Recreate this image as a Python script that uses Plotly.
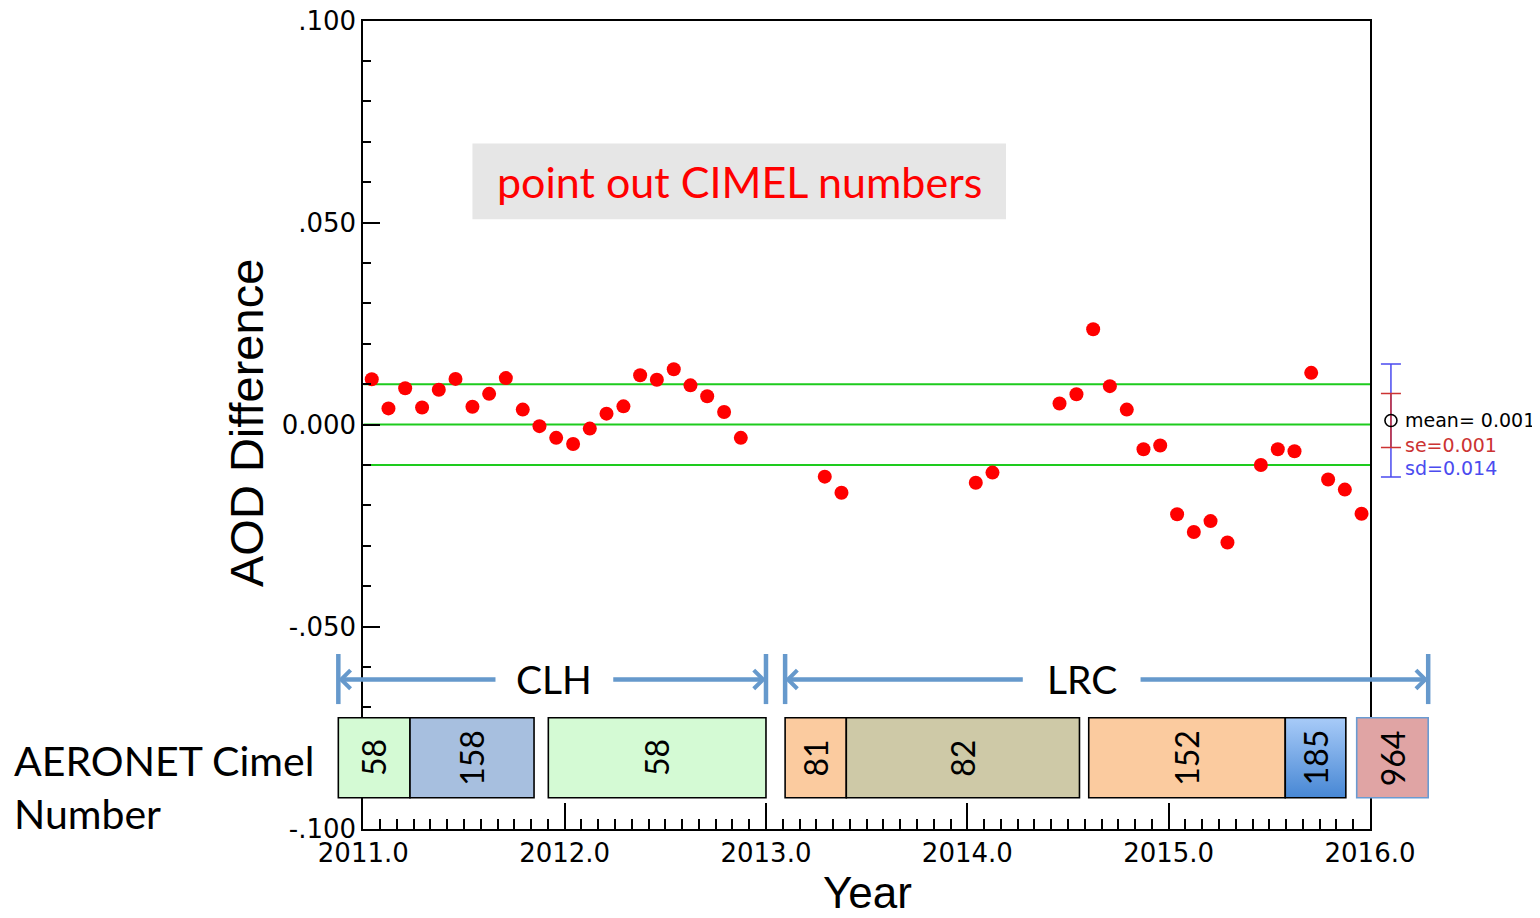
import plotly.graph_objects as go

# page body has an 8px margin: the figure is placed at (8, 8) in the 1540x918 window
OFF = 8
W, H = 1540 - OFF, 918 - OFF

# ---------------- data ----------------
YEARS = [2011.042, 2011.125, 2011.208, 2011.292, 2011.375, 2011.458, 2011.542, 2011.625,
         2011.708, 2011.792, 2011.875, 2011.958, 2012.042, 2012.125, 2012.208, 2012.292,
         2012.375, 2012.458, 2012.542, 2012.625, 2012.708, 2012.792, 2012.875,
         2013.292, 2013.375, 2014.042, 2014.125, 2014.458, 2014.542, 2014.625, 2014.708,
         2014.792, 2014.875, 2014.958, 2015.042, 2015.125, 2015.208, 2015.292, 2015.458,
         2015.542, 2015.625, 2015.708, 2015.792, 2015.875, 2015.958]
AOD_DIFF = [0.0112, 0.0040, 0.0090, 0.0042, 0.0086, 0.0113, 0.0044, 0.0076,
            0.0115, 0.0037, -0.0004, -0.0033, -0.0048, -0.0010, 0.0027, 0.0045,
            0.0122, 0.0111, 0.0137, 0.0097, 0.0070, 0.0031, -0.0033,
            -0.0129, -0.0169, -0.0144, -0.0119, 0.0052, 0.0075, 0.0236, 0.0095,
            0.0037, -0.0061, -0.0052, -0.0222, -0.0266, -0.0239, -0.0292, -0.0100,
            -0.0061, -0.0066, 0.0128, -0.0136, -0.0161, -0.0221]

GREEN_LEVELS = [-0.01, 0.0, 0.01]

MEAN = 0.001
SE_BAR = 0.0067
SD = 0.014
STAT_TEXT = ["mean= 0.001", "se=0.001", "sd=0.014"]

X_TICKS = [2011, 2012, 2013, 2014, 2015, 2016]
X_TICKTEXT = ["2011.0", "2012.0", "2013.0", "2014.0", "2015.0", "2016.0"]
Y_TICKS = [-0.1, -0.05, 0.0, 0.05, 0.1]
Y_TICKTEXT = ["-.100", "-.050", "0.000", ".050", ".100"]

# instrument (Cimel) periods
CIMEL_START = [2010.876, 2011.232, 2011.919, 2013.095, 2013.399, 2014.603, 2015.579, 2015.934]
CIMEL_END = [2011.232, 2011.848, 2013.000, 2013.399, 2014.557, 2015.579, 2015.880, 2016.289]
CIMEL_LABEL = ["58", "158", "58", "81", "82", "152", "185", "964"]
CIMEL_COLOR = ["#D4FAD4", "#A7BFDF", "#D4FAD4", "#FBCB9F", "#CEC9A7", "#FBCB9F", None, "#E0A4A4"]
CIMEL_EDGE = ["black"] * 7 + ["#6A9BD2"]
BOX_Y = (-0.0924, -0.0726)

# site periods
SITE_LABEL = ["CLH", "LRC"]
SITE_START = [2010.876, 2013.095]
SITE_END = [2013.000, 2016.289]
SITE_LABEL_X = [2011.949, 2014.568]
SITE_GAP = 0.285
ARROW_Y = -0.0631
BAR_Y = (-0.0692, -0.0568)

STAT_X = 2016.104

NOTE_BOX_X = (2011.542, 2014.192)
NOTE_BOX_Y = (0.0508, 0.0696)


def px(xw):
    """window x pixel -> paper fraction"""
    return (xw - OFF) / W


def py(yw):
    """window y pixel -> paper fraction"""
    return 1 - (yw - OFF) / H


# ---------------- layout geometry ----------------
XD = [px(363.3), px(1370.0)]
YD = [py(828.5), py(20.5)]
XR = [2011, 2016]
YR = [-0.1, 0.10002]
span = (XR[1] - XR[0]) / (XD[1] - XD[0])
X2R = [XR[0] - XD[0] * span, XR[0] + (1 - XD[0]) * span]

TICKFONT = dict(family="DejaVu Sans, sans-serif", size=26, color="black")
ARIAL = "Liberation Sans, Arial, sans-serif"
CAL = "Lato, Calibri, sans-serif"
ARROW_C = "#6699CC"

fig = go.Figure()

fig.add_trace(go.Scatter(
    x=YEARS, y=AOD_DIFF, mode="markers", xaxis="x", yaxis="y",
    marker=dict(color="#FF0000", size=14, line=dict(width=0)), showlegend=False,
))

# 185 box with vertical gradient
i185 = CIMEL_LABEL.index("185")
fig.add_trace(go.Scatter(
    x=[CIMEL_START[i185], CIMEL_END[i185], CIMEL_END[i185], CIMEL_START[i185], CIMEL_START[i185]],
    y=[BOX_Y[0], BOX_Y[0], BOX_Y[1], BOX_Y[1], BOX_Y[0]],
    xaxis="x2", yaxis="y", mode="lines", line=dict(width=0), fill="toself",
    fillgradient=dict(type="vertical", colorscale=[[0, "#4787D4"], [1, "#A8CBF8"]]),
    showlegend=False, hoverinfo="skip",
))

# stats: sd, se, mean
fig.add_trace(go.Scatter(
    x=[STAT_X], y=[MEAN], xaxis="x2", yaxis="y", mode="markers",
    marker=dict(size=1, color="rgba(0,0,0,0)"),
    error_y=dict(type="data", array=[SD], color="#4B4BEF", thickness=1.5, width=10),
    showlegend=False,
))
fig.add_trace(go.Scatter(
    x=[STAT_X], y=[MEAN], xaxis="x2", yaxis="y", mode="markers",
    marker=dict(size=1, color="rgba(0,0,0,0)"),
    error_y=dict(type="data", array=[SE_BAR], color="#CC3333", thickness=1.5, width=10),
    showlegend=False,
))
fig.add_trace(go.Scatter(
    x=[STAT_X], y=[MEAN], xaxis="x2", yaxis="y", mode="markers",
    marker=dict(symbol="circle-open", size=12, color="black", line=dict(width=1.6)),
    showlegend=False,
))

shapes = []
annotations = []

for lv in GREEN_LEVELS:
    shapes.append(dict(type="line", xref="x", yref="y", x0=XR[0], x1=XR[1], y0=lv, y1=lv,
                       line=dict(color="#1ECB1E", width=2), layer="below"))

shapes.append(dict(type="rect", xref="x", yref="y", x0=NOTE_BOX_X[0], x1=NOTE_BOX_X[1],
                   y0=NOTE_BOX_Y[0], y1=NOTE_BOX_Y[1], fillcolor="#E6E6E6",
                   line=dict(width=0), layer="below"))
annotations.append(dict(xref="x", yref="y", x=(NOTE_BOX_X[0] + NOTE_BOX_X[1]) / 2,
                        y=(NOTE_BOX_Y[0] + NOTE_BOX_Y[1]) / 2, text="point out CIMEL numbers",
                        xanchor="center", yanchor="middle", showarrow=False,
                        font=dict(family=CAL, size=43, color="#FF0000")))

for s, e, lab, col, edge in zip(CIMEL_START, CIMEL_END, CIMEL_LABEL, CIMEL_COLOR, CIMEL_EDGE):
    shapes.append(dict(type="rect", xref="x2", yref="y", x0=s, x1=e, y0=BOX_Y[0], y1=BOX_Y[1],
                       fillcolor=col if col else "rgba(0,0,0,0)",
                       line=dict(color=edge, width=1.6), layer="above"))
    annotations.append(dict(xref="x2", yref="y", x=(s + e) / 2, y=(BOX_Y[0] + BOX_Y[1]) / 2,
                            text=lab, textangle=-90, showarrow=False,
                            xanchor="center", yanchor="middle",
                            font=dict(family=CAL, size=32, color="black")))

for s, e, lab, lc in zip(SITE_START, SITE_END, SITE_LABEL, SITE_LABEL_X):
    for xv in (s, e):
        shapes.append(dict(type="line", xref="x2", yref="y", x0=xv, x1=xv, y0=BAR_Y[0], y1=BAR_Y[1],
                           line=dict(color=ARROW_C, width=4.5), layer="above"))
    annotations.append(dict(xref="x2", yref="y", axref="x2", ayref="y", x=s, y=ARROW_Y,
                            ax=lc - SITE_GAP, ay=ARROW_Y, text="", showarrow=True, arrowhead=4,
                            arrowsize=0.8, arrowwidth=4.5, arrowcolor=ARROW_C, standoff=0))
    annotations.append(dict(xref="x2", yref="y", axref="x2", ayref="y", x=e, y=ARROW_Y,
                            ax=lc + SITE_GAP, ay=ARROW_Y, text="", showarrow=True, arrowhead=4,
                            arrowsize=0.8, arrowwidth=4.5, arrowcolor=ARROW_C, standoff=0))
    annotations.append(dict(xref="x2", yref="y", x=lc, y=ARROW_Y, text=lab, showarrow=False,
                            xanchor="center", yanchor="middle",
                            font=dict(family=CAL, size=39, color="black")))

stat_colors = ["black", "#CC3333", "#4B4BEF"]
stat_shift = [0, -24.5, -47.5]
for t, c, ys in zip(STAT_TEXT, stat_colors, stat_shift):
    annotations.append(dict(xref="x2", yref="y", x=STAT_X, y=MEAN, xshift=12, yshift=ys,
                            xanchor="left", yanchor="middle", text=t, showarrow=False,
                            font=dict(family="DejaVu Sans, sans-serif", size=19, color=c)))

# titles
annotations.append(dict(xref="paper", yref="paper", x=px(247), y=py(423), text="AOD Difference",
                        textangle=-90, xanchor="center", yanchor="middle", showarrow=False,
                        font=dict(family=ARIAL, size=47, color="black")))
annotations.append(dict(xref="paper", yref="paper", x=px(867), y=py(892), text="Year",
                        xanchor="center", yanchor="middle", showarrow=False,
                        font=dict(family=ARIAL, size=44, color="black")))
annotations.append(dict(xref="paper", yref="paper", x=px(12), y=py(734), xanchor="left",
                        yanchor="top", align="left", text="AERONET Cimel<br>Number", showarrow=False,
                        font=dict(family=CAL, size=41, color="black")))

QUARTERS = [y + q for y in range(2011, 2016) for q in (0.25, 0.5, 0.75)]

fig.update_layout(
    width=W, height=H, autosize=False,
    margin=dict(l=0, r=0, t=0, b=0, pad=0, autoexpand=False),
    paper_bgcolor="white", plot_bgcolor="rgba(0,0,0,0)",
    showlegend=False,
    xaxis=dict(domain=XD, range=XR, anchor="y", tickvals=X_TICKS, ticktext=X_TICKTEXT,
               ticks="inside", ticklen=26, tickwidth=1.5, tickcolor="black",
               minor=dict(dtick=1 / 12, tick0=2011, ticks="inside", ticklen=10, tickwidth=1.5,
                          tickcolor="black", showgrid=False),
               showline=True, linecolor="black", linewidth=2, mirror=True, automargin=False,
               ticklabeloverflow="allow",
               showgrid=False, zeroline=False, tickfont=TICKFONT),
    xaxis3=dict(overlaying="x", anchor="y", range=XR, tickvals=QUARTERS, ticks="inside",
                ticklen=17, tickwidth=1.5, tickcolor="black", showticklabels=False,
                automargin=False, showline=False, showgrid=False, zeroline=False),
    xaxis2=dict(domain=[0, 1], range=X2R, anchor="y", showline=False, showticklabels=False,
                automargin=False, ticks="", showgrid=False, zeroline=False),
    yaxis=dict(domain=YD, range=YR, anchor="x", tickvals=Y_TICKS, ticktext=Y_TICKTEXT,
               ticks="inside", ticklen=17, tickwidth=1.5, tickcolor="black",
               minor=dict(dtick=0.01, tick0=0, ticks="inside", ticklen=8, tickwidth=1.5,
                          tickcolor="black", showgrid=False),
               showline=True, linecolor="black", linewidth=2, mirror=True, automargin=False,
               ticklabeloverflow="allow",
               showgrid=False, zeroline=False, tickfont=TICKFONT),
    shapes=shapes,
    annotations=annotations,
)

fig.write_html("out.html", config={"responsive": False})
